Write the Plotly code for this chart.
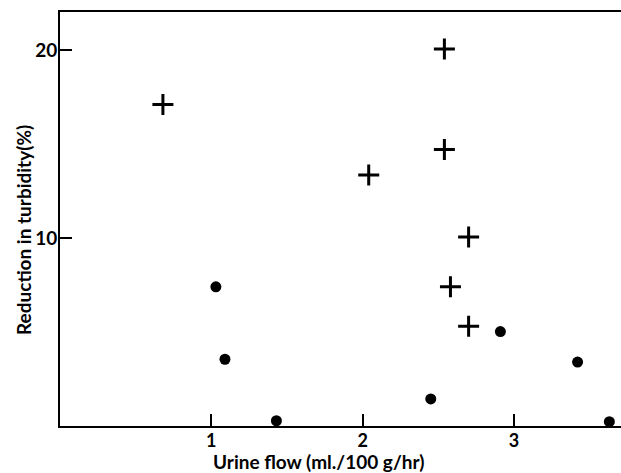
import plotly.graph_objects as go

# Crosses (+)
cross_x = [0.68, 2.54, 2.54, 2.04, 2.70, 2.58, 2.70]
cross_y = [17.1, 20.05, 14.7, 13.35, 10.05, 7.4, 5.3]

# Filled circles
dot_x = [1.03, 1.09, 1.43, 2.45, 2.91, 3.42, 3.63]
dot_y = [7.4, 3.55, 0.28, 1.44, 5.02, 3.4, 0.23]

x_ticks = [1, 2, 3]
y_ticks = [10, 20]

x_title = "Urine flow (ml./100 g/hr)"
y_title = "Reduction in turbidity(%)"

FONT = "Lato"

fig = go.Figure()
fig.add_trace(go.Scatter(
    x=cross_x, y=cross_y, mode="markers",
    marker=dict(symbol="cross-thin", size=15, color="black",
                line=dict(color="black", width=3)),
    showlegend=False, cliponaxis=False))
fig.add_trace(go.Scatter(
    x=dot_x, y=dot_y, mode="markers",
    marker=dict(symbol="circle", size=11, color="black"),
    showlegend=False, cliponaxis=False))

fig.update_layout(
    width=621, height=473,
    margin=dict(l=60, r=0, t=12, b=47, autoexpand=False),
    plot_bgcolor="white", paper_bgcolor="white",
    font=dict(family=FONT, color="black", size=19, weight="bold"),
    xaxis=dict(range=[0, 3.707], tickvals=x_ticks, ticktext=[str(v) for v in x_ticks],
               ticks="inside", ticklen=12, tickwidth=2, tickcolor="black",
               showline=True, linewidth=2, linecolor="black", mirror=True,
               showgrid=False, zeroline=False, automargin=False,
               ticklabelstandoff=-3,
               tickfont=dict(size=18, family=FONT, weight="bold")),
    yaxis=dict(range=[0, 22.02], tickvals=y_ticks, ticktext=[str(v) for v in y_ticks],
               ticks="inside", ticklen=12, tickwidth=2, tickcolor="black",
               showline=True, linewidth=2, linecolor="black", mirror=False,
               showgrid=False, zeroline=False, automargin=False,
               ticklabelstandoff=-3,
               tickfont=dict(size=19, family=FONT, weight="bold")),
    annotations=[
        dict(text=x_title, xref="paper", yref="paper", x=(318 - 60) / 561, y=0,
             xanchor="center", yanchor="middle", yshift=-35, showarrow=False,
             borderpad=0,
             font=dict(size=19, family=FONT, weight="bold", color="black")),
        dict(text=y_title, xref="paper", yref="paper", x=0, y=(426 - 230) / 414,
             xanchor="center", yanchor="middle", xshift=-37, textangle=-90,
             showarrow=False, borderpad=0,
             font=dict(size=19, family=FONT, weight="bold", color="black")),
    ],
)

fig.write_html("out.html", config={"displayModeBar": False},
               post_script="document.body.style.margin='0';document.body.style.overflow='hidden';")
